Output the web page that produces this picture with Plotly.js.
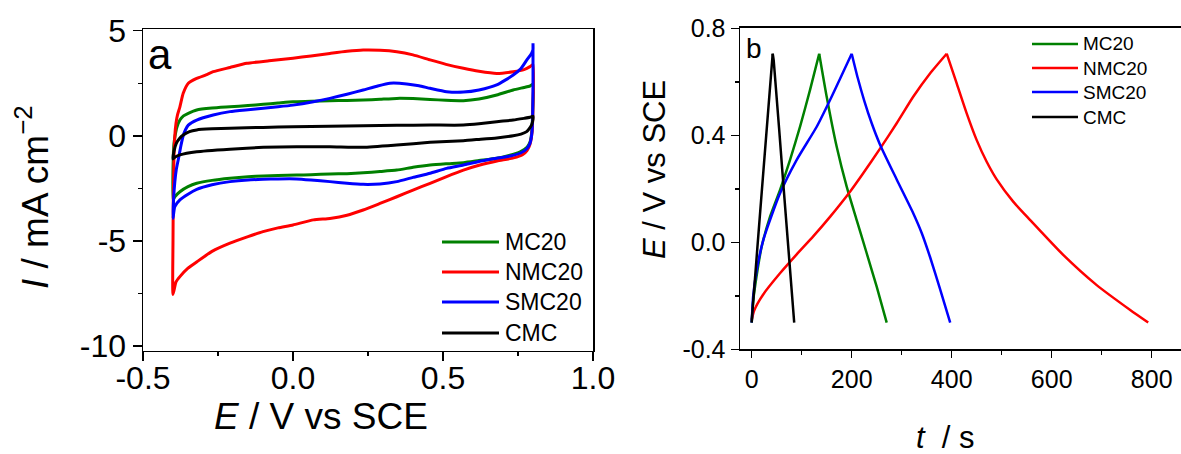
<!DOCTYPE html>
<html>
<head>
<meta charset="utf-8">
<script src="https://cdn.plot.ly/plotly-3.0.1.min.js"></script>
<style>
html, body { margin: 0; padding: 0; background: #fff; overflow: hidden; }
#chart { width: 1181px; height: 454px; }
</style>
</head>
<body>
<div id="chart"></div>
<script>
// Samples and their line colours
const samples = ['MC20', 'NMC20', 'SMC20', 'CMC'];
const colors = ['#008000', '#ff0000', '#0000ff', '#000000'];

// (a) Cyclic voltammograms: E (V vs SCE) and I (mA cm^-2), forward then reverse scan
const cvE_MC20 = [-0.4, -0.399, -0.397, -0.393, -0.387, -0.377, -0.365, -0.349, -0.321, -0.27, -0.21, -0.15, -0.099, -0.05, 0, 0.06, 0.123, 0.18, 0.234, 0.29, 0.346, 0.4, 0.457, 0.51, 0.568, 0.62, 0.679, 0.734, 0.77, 0.79, 0.8,
                  0.799, 0.796, 0.79, 0.78, 0.757, 0.72, 0.679, 0.62, 0.568, 0.51, 0.457, 0.4, 0.346, 0.29, 0.234, 0.18, 0.123, 0.06, 0.012, -0.05, -0.099, -0.15, -0.21, -0.27, -0.321, -0.35, -0.377, -0.394, -0.4];
const cvI_MC20 = [-3.05, -1.0, -0.4, 0.0, 0.4, 0.75, 0.95, 1.07, 1.23, 1.32, 1.38, 1.44, 1.5, 1.56, 1.62, 1.64, 1.67, 1.68, 1.7, 1.74, 1.78, 1.77, 1.73, 1.69, 1.67, 1.75, 1.94, 2.18, 2.3, 2.37, 2.45,
                  1.2, 0.2, -0.3, -0.55, -0.76, -0.93, -1.07, -1.18, -1.28, -1.33, -1.39, -1.5, -1.63, -1.7, -1.76, -1.8, -1.82, -1.85, -1.87, -1.89, -1.91, -1.95, -2.02, -2.12, -2.26, -2.42, -2.66, -2.9, -3.05];

const cvE_NMC20 = [-0.4, -0.4, -0.399, -0.397, -0.394, -0.39, -0.385, -0.377, -0.366, -0.349, -0.321, -0.29, -0.266, -0.21, -0.154, -0.08, 0, 0.06, 0.123, 0.18, 0.234, 0.29, 0.346, 0.4, 0.457, 0.51, 0.568, 0.62, 0.679, 0.734, 0.77, 0.79, 0.8,
                   0.8, 0.797, 0.79, 0.78, 0.765, 0.735, 0.68, 0.62, 0.568, 0.51, 0.457, 0.4, 0.346, 0.29, 0.234, 0.18, 0.123, 0.068, 0, -0.05, -0.1, -0.15, -0.21, -0.27, -0.32, -0.35, -0.377, -0.39, -0.4];
const cvI_NMC20 = [-7.55, -5.0, -3.0, -1.2, 0.0, 0.6, 1.0, 1.38, 2.02, 2.5, 2.73, 2.9, 3.05, 3.25, 3.45, 3.57, 3.69, 3.8, 3.92, 4.02, 4.08, 4.07, 4.0, 3.85, 3.61, 3.4, 3.21, 3.07, 2.97, 3.05, 3.15, 3.29, 3.4,
                   1.5, 0.2, -0.4, -0.7, -0.9, -1.05, -1.2, -1.4, -1.63, -1.95, -2.26, -2.58, -2.9, -3.22, -3.53, -3.78, -3.93, -4.0, -4.24, -4.38, -4.56, -4.8, -5.11, -5.5, -5.99, -6.3, -6.7, -6.95, -7.55];

const cvE_SMC20 = [-0.4, -0.398, -0.394, -0.389, -0.382, -0.374, -0.366, -0.358, -0.349, -0.321, -0.266, -0.21, -0.15, -0.099, -0.05, 0, 0.068, 0.123, 0.18, 0.234, 0.28, 0.323, 0.379, 0.42, 0.457, 0.512, 0.568, 0.62, 0.679, 0.734, 0.76, 0.779, 0.795, 0.8, 0.8,
                   0.8, 0.799, 0.796, 0.79, 0.78, 0.757, 0.72, 0.679, 0.62, 0.568, 0.512, 0.457, 0.4, 0.346, 0.29, 0.234, 0.18, 0.123, 0.06, 0.012, -0.05, -0.099, -0.15, -0.21, -0.27, -0.321, -0.35, -0.377, -0.394, -0.4];
const cvI_SMC20 = [-3.93, -3.0, -2.2, -1.6, -1.1, -0.5, 0.0, 0.3, 0.51, 0.75, 0.99, 1.15, 1.24, 1.31, 1.38, 1.46, 1.62, 1.78, 1.98, 2.18, 2.36, 2.5, 2.47, 2.38, 2.26, 2.1, 2.08, 2.18, 2.42, 2.89, 3.2, 3.6, 3.92, 4.1, 4.4,
                   2.5, 1.0, 0.1, -0.35, -0.6, -0.83, -0.97, -1.07, -1.22, -1.39, -1.55, -1.78, -1.98, -2.18, -2.29, -2.31, -2.26, -2.18, -2.1, -2.05, -2.05, -2.07, -2.1, -2.18, -2.33, -2.55, -2.78, -3.05, -3.37, -3.93];

const cvE_CMC = [-0.4, -0.397, -0.389, -0.377, -0.366, -0.345, -0.321, -0.27, -0.21, -0.1, 0, 0.12, 0.234, 0.346, 0.457, 0.568, 0.62, 0.679, 0.734, 0.77, 0.79, 0.8,
                 0.799, 0.795, 0.787, 0.779, 0.76, 0.734, 0.679, 0.62, 0.568, 0.457, 0.346, 0.234, 0.123, 0.012, -0.099, -0.21, -0.321, -0.377, -0.394, -0.4];
const cvI_CMC = [-1.1, -0.75, -0.36, -0.1, 0.04, 0.2, 0.28, 0.33, 0.36, 0.4, 0.43, 0.46, 0.48, 0.5, 0.51, 0.51, 0.57, 0.67, 0.75, 0.83, 0.88, 0.93,
                 0.7, 0.51, 0.33, 0.2, 0.08, 0.0, -0.1, -0.17, -0.23, -0.31, -0.44, -0.55, -0.52, -0.52, -0.55, -0.64, -0.76, -0.91, -1.02, -1.1];

// (b) Galvanostatic charge/discharge: t (s) and E (V vs SCE); charging ends at the peak point
const gcdT_MC20 = [0, 3, 6.6, 20, 36.7, 56.7, 76.7, 96.7, 116.7, 135, 150, 170, 190, 210, 230, 250, 270];
const gcdE_MC20 = [-0.3, -0.22, -0.166, -0.016, 0.096, 0.196, 0.308, 0.432, 0.57, 0.705, 0.544, 0.357, 0.208, 0.083, -0.041, -0.166, -0.3];

const gcdT_NMC20 = [0, 5, 23, 57, 90, 123, 157, 197, 223, 257, 290, 323, 357, 390, 410, 430, 450, 470, 490, 523, 557, 623, 690, 757, 793];
const gcdE_NMC20 = [-0.29, -0.255, -0.195, -0.115, -0.045, 0.022, 0.096, 0.19, 0.258, 0.351, 0.445, 0.544, 0.632, 0.705, 0.594, 0.482, 0.382, 0.301, 0.235, 0.152, 0.083, -0.047, -0.16, -0.253, -0.3];

const gcdT_SMC20 = [0, 3, 10, 23.3, 56.7, 90, 130, 156.7, 200, 212, 225, 240, 256.7, 290, 323.3, 340, 356.7, 376, 397];
const gcdE_SMC20 = [-0.3, -0.2, -0.104, 0.009, 0.183, 0.308, 0.432, 0.532, 0.705, 0.615, 0.53, 0.445, 0.365, 0.235, 0.108, 0.035, -0.055, -0.17, -0.3];

const gcdT_CMC = [0, 1, 21, 42, 44, 64, 85];
const gcdE_CMC = [-0.3, -0.27, 0.21, 0.705, 0.68, 0.2, -0.3];

// Tick values and labels
const cvXTicks = [-0.5, 0, 0.5, 1.0];
const cvXLabels = ['-0.5', '0.0', '0.5', '1.0'];
const cvYTicks = [-10, -5, 0, 5];
const cvYLabels = ['-10', '-5', '0', '5'];
const gcdXTicks = [0, 200, 400, 600, 800];
const gcdXLabels = ['0', '200', '400', '600', '800'];
const gcdYTicks = [-0.4, 0, 0.4, 0.8];
const gcdYLabels = ['-0.4', '0.0', '0.4', '0.8'];

const W = 1181, H = 454;
const fx = p => p / W;          // pixel column -> paper x
const fy = p => 1 - p / H;      // pixel row -> paper y

const cvSeries = [[cvE_MC20, cvI_MC20], [cvE_NMC20, cvI_NMC20], [cvE_SMC20, cvI_SMC20], [cvE_CMC, cvI_CMC]];
const gcdSeries = [[gcdT_MC20, gcdE_MC20], [gcdT_NMC20, gcdE_NMC20], [gcdT_SMC20, gcdE_SMC20], [gcdT_CMC, gcdE_CMC]];

const traces = [];
cvSeries.forEach((s, i) => traces.push({
  x: s[0], y: s[1], xaxis: 'x', yaxis: 'y', mode: 'lines', name: samples[i],
  line: { color: colors[i], width: 3, shape: 'spline', smoothing: 0.5 }, showlegend: false
}));
// Each charge/discharge curve is drawn as two smooth halves joined at its peak
gcdSeries.forEach((s, i) => {
  const t = s[0], e = s[1];
  const k = e.indexOf(Math.max(...e));
  [[0, k + 1], [k, t.length]].forEach(([a, b]) => traces.push({
    x: t.slice(a, b), y: e.slice(a, b), xaxis: 'x2', yaxis: 'y2', mode: 'lines', name: samples[i],
    line: { color: colors[i], width: 2.5, shape: 'spline', smoothing: 0.6 }, showlegend: false
  }));
});

const FONT = 'Liberation Sans, Arial, sans-serif';

function axisStyle(extra) {
  return Object.assign({
    showline: true, linecolor: '#000', linewidth: 1.5, mirror: true,
    ticks: 'outside', ticklen: 9, tickwidth: 1.5, tickcolor: '#000',
    showgrid: false, zeroline: false, tickmode: 'array', fixedrange: true
  }, extra);
}

const layout = {
  width: W, height: H,
  margin: { l: 0, r: 0, t: 0, b: 0 },
  paper_bgcolor: '#fff', plot_bgcolor: '#fff',
  font: { family: FONT, color: '#000' },
  xaxis: axisStyle({
    domain: [fx(143), fx(593)], range: [-0.5, 1.0], anchor: 'y',
    tickvals: cvXTicks, ticktext: cvXLabels, tickfont: { size: 32, family: FONT }, ticklabelstandoff: -11,
    minor: { ticks: 'outside', ticklen: 4, tickwidth: 1.5, tickcolor: '#000', tickmode: 'linear', tick0: 0, dtick: 0.25 }
  }),
  yaxis: axisStyle({
    domain: [fy(350.7), fy(29.3)], range: [-10.224, 5.067], anchor: 'x',
    tickvals: cvYTicks, ticktext: cvYLabels, tickfont: { size: 32, family: FONT },
    minor: { ticks: 'outside', ticklen: 4, tickwidth: 1.5, tickcolor: '#000', tickmode: 'linear', tick0: 0, dtick: 2.5 }
  }),
  xaxis2: axisStyle({
    domain: [fx(740), 1], range: [-23.4, 858.6], anchor: 'y2',
    tickvals: gcdXTicks, ticktext: gcdXLabels, tickfont: { size: 25, family: FONT }, ticklen: 7,
    minor: { ticks: 'outside', ticklen: 4, tickwidth: 1.5, tickcolor: '#000', tickmode: 'linear', tick0: 0, dtick: 100 }
  }),
  yaxis2: axisStyle({
    domain: [fy(349.3), fy(27.7)], range: [-0.4, 0.8022], anchor: 'x2', mirror: false,
    tickvals: gcdYTicks, ticktext: gcdYLabels, tickfont: { size: 25, family: FONT }, ticklen: 8,
    minor: { ticks: 'outside', ticklen: 4, tickwidth: 1.5, tickcolor: '#000', tickmode: 'linear', tick0: 0, dtick: 0.2 }
  }),
  shapes: [],
  annotations: []
};

function note(text, x, y, size, opts) {
  layout.annotations.push(Object.assign({
    text: text, x: fx(x), y: fy(y), xref: 'paper', yref: 'paper',
    showarrow: false, font: { size: size, family: FONT, color: '#000' },
    xanchor: 'center', yanchor: 'middle'
  }, opts || {}));
}

// Axis titles
note('<i>E</i> / V vs SCE', 321, 416, 37);
note('<i>I</i> / mA cm<sup>\u22122</sup>', 33, 197, 37, { textangle: -90 });
note('<i>E</i> / V vs SCE', 654, 170, 31, { textangle: -90 });
note('<i>t</i>\u00a0 / s', 945, 437, 31);

// Panel letters
note('a', 146, 55, 42, { xanchor: 'left' });
note('b', 744, 48, 28, { xanchor: 'left' });

// Legends drawn as line keys with labels
function legend(x0, x1, xText, yRows, size, lw) {
  samples.forEach((name, i) => {
    layout.shapes.push({
      type: 'line', xref: 'paper', yref: 'paper',
      x0: fx(x0), x1: fx(x1), y0: fy(yRows[i]), y1: fy(yRows[i]),
      line: { color: colors[i], width: lw }
    });
    note(name, xText, yRows[i], size, { xanchor: 'left' });
  });
}
legend(442, 499, 503, [242, 272, 302, 333], 23, 3);
legend(1032, 1078, 1081, [44, 68, 92, 117], 19, 2.5);

Plotly.newPlot('chart', traces, layout, { displayModeBar: false, staticPlot: true });
</script>
</body>
</html>
